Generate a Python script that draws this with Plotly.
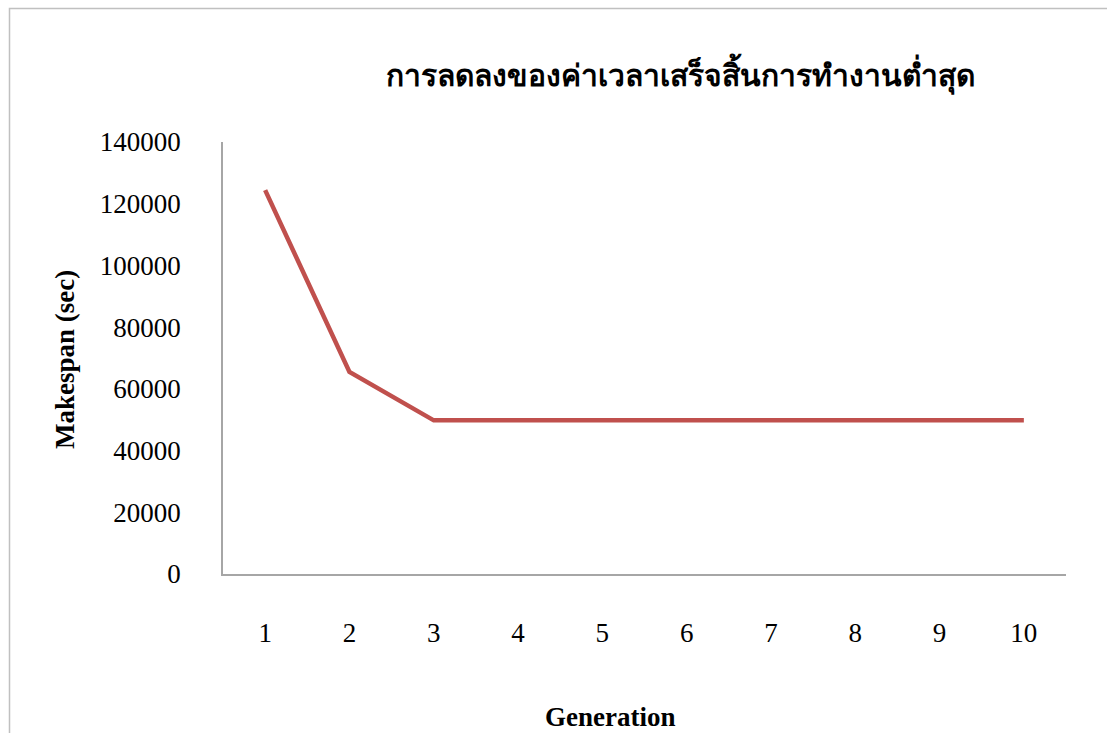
import plotly.graph_objects as go

# Best makespan found at each generation
generations = [1, 2, 3, 4, 5, 6, 7, 8, 9, 10]
makespan = [124400, 65500, 49800, 49800, 49800, 49800, 49800, 49800, 49800, 49800]
y_ticks = [0, 20000, 40000, 60000, 80000, 100000, 120000, 140000]

title_text = "การลดลงของค่าเวลาเสร็จสิ้นการทำงานต่ำสุด"
x_title = "Generation"
y_title = "Makespan (sec)"

W, H = 1107, 733
L, R, T, B = 223, 41, 142, 159
pw, ph = W - L - R, H - T - B

def px(x):
    return (x - L) / pw

def py(y):
    return (H - B - y) / ph

serif = "Liberation Serif, Times New Roman, serif"

fig = go.Figure()
fig.add_trace(go.Scatter(
    x=[str(g) for g in generations], y=makespan, mode="lines",
    line=dict(color="#C0504D", width=4.5), showlegend=False,
))

fig.update_layout(
    width=W, height=H,
    margin=dict(l=L, r=R, t=T, b=B),
    paper_bgcolor="white", plot_bgcolor="white",
    font=dict(family=serif, size=27, color="black"),
    xaxis=dict(
        type="category", range=[-0.5, len(generations) - 0.5],
        showgrid=False, zeroline=False,
        showline=True, linecolor="#a6a6a6", linewidth=1.5,
        ticks="", ticklabelstandoff=34,
        tickfont=dict(family=serif, size=27),
    ),
    yaxis=dict(
        range=[0, 140000], tickvals=y_ticks, showgrid=False, zeroline=False,
        showline=True, linecolor="#a6a6a6", linewidth=1.5,
        ticks="", ticklabelstandoff=35, tickformat="d",
        tickfont=dict(family=serif, size=27),
    ),
    shapes=[dict(
        type="rect", xref="paper", yref="paper",
        x0=px(9.5), x1=px(1300), y0=py(900), y1=py(8.5),
        line=dict(color="#c0c0c0", width=1.5), fillcolor="rgba(0,0,0,0)",
        layer="below",
    )],
    annotations=[
        dict(text="<b>" + title_text + "</b>", xref="paper", yref="paper",
             x=px(680), y=py(74), xanchor="center", yanchor="middle",
             showarrow=False, font=dict(size=30, family="Noto Sans, sans-serif")),
        dict(text="<b>" + x_title + "</b>", xref="paper", yref="paper",
             x=px(610), y=py(717), xanchor="center", yanchor="middle",
             showarrow=False, font=dict(size=27, family=serif)),
        dict(text="<b>" + y_title + "</b>", xref="paper", yref="paper",
             x=px(65), y=py(360), xanchor="center", yanchor="middle",
             textangle=-90, showarrow=False, font=dict(size=27, family=serif)),
    ],
)

fig.write_html("out.html")
